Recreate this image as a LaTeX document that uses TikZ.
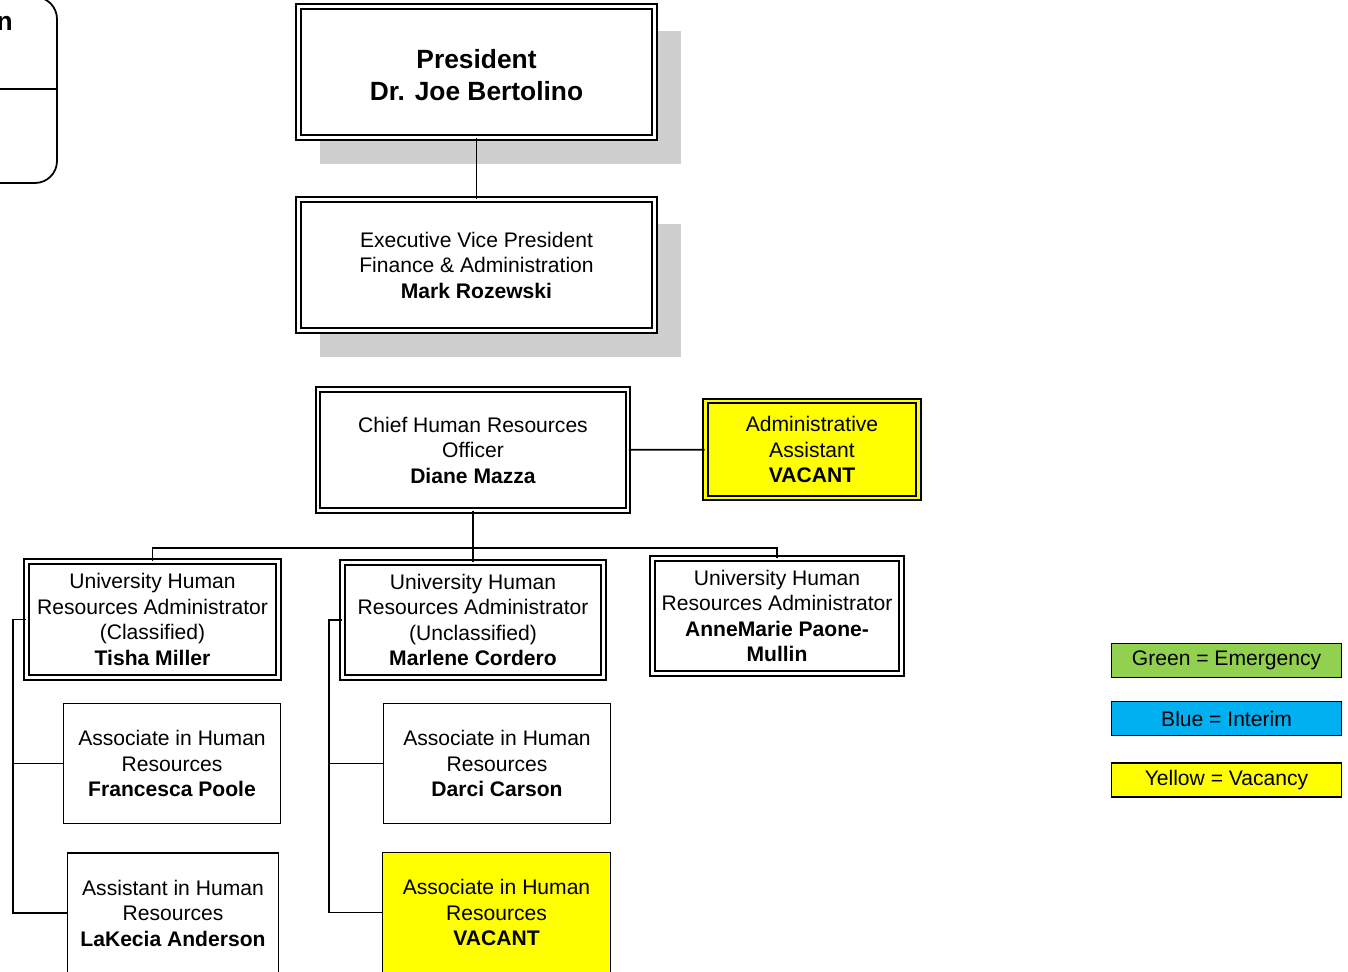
\documentclass[tikz,border=0pt]{standalone}
\usepackage{fontspec}
\setmainfont{Liberation Sans}
\usetikzlibrary{shadows}

\definecolor{vacancy}{HTML}{FFFF00}
\definecolor{emergency}{HTML}{92D050}
\definecolor{interim}{HTML}{00B0F0}

\begin{document}
\begin{tikzpicture}[x=0.02cm,y=-0.02cm,
    every node/.style={font=\fontsize{12}{14.5}\selectfont, align=center, inner sep=0pt},
    box/.style={draw, line width=0.8pt, fill=white},
    dbox/.style={draw, line width=0.95pt, double, double distance=0.055cm, fill=white},
    shade/.style={drop shadow={shadow xshift=0.47cm, shadow yshift=-0.5cm, shadow scale=1.015, fill=black!19, opacity=1}},
    legendbox/.style={draw, line width=0.6pt, minimum width=4.6cm, minimum height=0.68cm},
    link/.style={line width=1pt}]
    \useasboundingbox (0,0) rectangle (1348,972);
    \clip (0,0) rectangle (1348,972);

    \draw[line width=1pt, rounded corners=0.44cm] (-100,-3) rectangle (57,183);
    \draw[line width=0.8pt] (-10,89) -- (57,89);
    \node[anchor=base east, font=\fontsize{15}{18}\selectfont\bfseries] (cutname) at (13,31) {n};

    \node[dbox, shade, minimum width=7.12cm, minimum height=2.62cm,
          font=\fontsize{15}{18}\selectfont\bfseries] (pres) at (476.5,72)
        {\rule{0pt}{5mm}President\\Dr. Joe Bertolino};
    \node[dbox, shade, minimum width=7.12cm, minimum height=2.62cm] (evp) at (476.5,265)
        {Executive Vice President\\Finance \& Administration\\\textbf{Mark Rozewski}};

    \node[dbox, minimum width=6.2cm, minimum height=2.42cm] (chro) at (473,450)
        {Chief Human Resources\\Officer\\\textbf{Diane Mazza}};
    \node[dbox, fill=vacancy, double=vacancy, minimum width=4.26cm, minimum height=1.94cm] (admin) at (812,449.5)
        {Administrative\\Assistant\\\textbf{VACANT}};

    \node[dbox, minimum width=5.04cm, minimum height=2.32cm] (tisha) at (152.5,619.5)
        {University Human\\Resources Administrator\\(Classified)\\\textbf{Tisha Miller}};
    \node[dbox, minimum width=5.22cm, minimum height=2.3cm] (marlene) at (473,620)
        {University Human\\Resources Administrator\\(Unclassified)\\\textbf{Marlene Cordero}};
    \node[dbox, minimum width=4.98cm, minimum height=2.3cm] (anne) at (777,616)
        {University Human\\Resources Administrator\\\textbf{AnneMarie Paone-}\\\textbf{Mullin}};

    \node[box, minimum width=4.34cm, minimum height=2.4cm] (fran) at (172,763.5)
        {Associate in Human\\Resources\\\textbf{Francesca Poole}};
    \node[box, minimum width=4.22cm, minimum height=2.4cm] (lakecia) at (173,913)
        {Assistant in Human\\Resources\\\textbf{LaKecia Anderson}};
    \node[box, minimum width=4.54cm, minimum height=2.4cm] (darci) at (497,763.5)
        {Associate in Human\\Resources\\\textbf{Darci Carson}};
    \node[box, fill=vacancy, minimum width=4.56cm, minimum height=2.4cm] (vacant) at (496.5,912.5)
        {Associate in Human\\Resources\\\textbf{VACANT}};

    \node[legendbox, fill=emergency] (green) at (1226.5,660.5) {Green = Emergency};
    \node[legendbox, fill=interim] (blue) at (1226.5,718.5) {Blue = Interim};
    \node[legendbox, fill=vacancy] (yellow) at (1226.5,780) {Yellow = Vacancy};

    \draw[link] (pres) -- (evp);
    \draw[link] (chro) -- (admin);
    \draw[link] (chro) -- (marlene);
    \coordinate (bus) at (473,548);
    \draw[link] (tisha.north) |- (bus) -| (anne.north);

    \coordinate (lspine) at (13,619.5);
    \draw[link] (tisha.west) -- (lspine) |- (lakecia.west);
    \draw[link] (lspine |- fran.west) -- (fran.west);
    \coordinate (mspine) at (329,620);
    \draw[link] (marlene.west) -- (mspine) |- (vacant.west);
    \draw[link] (mspine |- darci.west) -- (darci.west);
\end{tikzpicture}
\end{document}
